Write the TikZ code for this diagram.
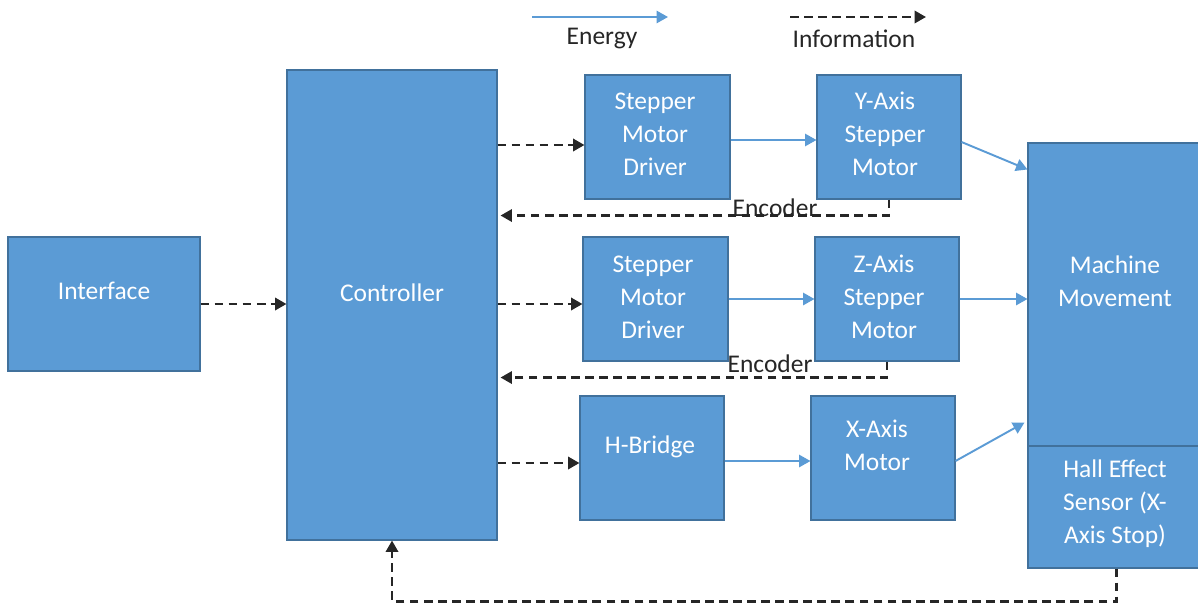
\documentclass[tikz,border=0pt]{standalone}
\usepackage{fontspec}
\setmainfont{Carlito}
\usepackage{xcolor}
\usetikzlibrary{arrows.meta,positioning,calc}
\definecolor{boxblue}{HTML}{5B9BD5}
\definecolor{boxedge}{HTML}{41719C}

\begin{document}
\begin{tikzpicture}[
  font=\fontsize{14.5}{18.8}\selectfont,
  blk/.style={draw=boxedge, fill=boxblue, line width=0.6pt, inner sep=0pt},
  txt/.style={text=white, align=center, inner sep=0pt},
  lbl/.style={text=black!85, inner sep=0pt},
  energy/.style={-{Triangle[length=6.5pt, width=7pt]}, draw=boxblue, line width=1.1pt},
  info/.style={-{Triangle[length=6.5pt, width=7pt]}, black!85, line width=1.4pt,
    dash pattern=on 5pt off 3pt},
]
\useasboundingbox (0,0) rectangle (23.96,12.08);
% legend
\node[lbl] (lgen) at (12.04,11.30) {Energy};
\node[lbl] (lgin) at (17.08,11.30) {Information};
\coordinate (en1) at (10.64,11.74);
\coordinate (en2) at (13.36,11.74);
\coordinate (in1) at (15.80,11.74);
\coordinate (in2) at (18.52,11.74);
\draw[energy] (en1) -- (en2);
\draw[info] (in1) -- (in2);
% blocks
\node[blk, minimum width=3.84cm, minimum height=2.68cm] (intf) at (2.08,6.00) {};
\node[txt] (intf-t) at (2.08,6.26) {Interface};
\node[blk, minimum width=4.20cm, minimum height=9.40cm] (ctrl) at (7.84,5.98) {};
\node[txt] (ctrl-t) at (7.84,6.22) {Controller};
\node[blk, minimum width=2.90cm, minimum height=2.48cm] (drv1) at (13.15,9.34) {};
\node[txt] (drv1-t) at (13.10,9.40) {Stepper\\Motor\\Driver};
\node[blk, minimum width=2.88cm, minimum height=2.48cm] (ymot) at (17.78,9.34) {};
\node[txt] (ymot-t) at (17.70,9.40) {Y-Axis\\Stepper\\Motor};
\node[blk, minimum width=2.90cm, minimum height=2.48cm] (drv2) at (13.11,6.10) {};
\node[txt] (drv2-t) at (13.06,6.14) {Stepper\\Motor\\Driver};
\node[blk, minimum width=2.88cm, minimum height=2.48cm] (zmot) at (17.74,6.10) {};
\node[txt] (zmot-t) at (17.68,6.14) {Z-Axis\\Stepper\\Motor};
\node[blk, minimum width=2.88cm, minimum height=2.48cm] (hbr) at (13.04,2.92) {};
\node[txt] (hbr-t) at (13.00,3.14) {H-Bridge};
\node[blk, minimum width=2.88cm, minimum height=2.48cm] (xmot) at (17.66,2.92) {};
\node[txt] (xmot-t) at (17.54,3.18) {X-Axis\\Motor};
\node[blk, minimum width=3.54cm, minimum height=6.06cm] (mach) at (22.33,6.19) {};
\node[txt] (mach-t) at (22.30,6.46) {Machine\\Movement};
\node[blk, minimum width=3.54cm, minimum height=2.44cm] (hall) at (22.33,1.94) {};
\node[txt] (hall-t) at (22.30,2.00) {Hall Effect\\Sensor (X-\\Axis Stop)};
% control signals
\draw[info] (intf.east) -- (intf.east -| ctrl.west);
\draw[info] ([yshift=-0.16cm]drv1.west -| ctrl.east) -- ([yshift=-0.16cm]drv1.west);
\draw[info] ([yshift=-0.10cm]drv2.west -| ctrl.east) -- ([yshift=-0.10cm]drv2.west);
\draw[info] ([yshift=-0.10cm]hbr.west -| ctrl.east) -- ([yshift=-0.10cm]hbr.west);
% encoder feedback
\draw[info] (ymot.south) -- ++(0,-0.32) coordinate (enc1) -- ([xshift=0.06cm]enc1 -| ctrl.east);
\node[lbl] (enc1-t) at (15.50,7.92) {Encoder};
\draw[info] (zmot.south) -- ++(0,-0.32) coordinate (enc2) -- ([xshift=0.06cm]enc2 -| ctrl.east);
\node[lbl] (enc2-t) at (15.40,4.80) {Encoder};
\draw[info] (hall.south) -- ++(0,-0.66) -| (ctrl.south);
% power to the axes
\draw[energy] ([yshift=-0.06cm]drv1.east) -- ([yshift=-0.06cm]drv1.east -| ymot.west);
\draw[energy] (drv2.east) -- (drv2.east -| zmot.west);
\draw[energy] ([yshift=-0.06cm]hbr.east) -- ([yshift=-0.06cm]hbr.east -| xmot.west);
\draw[energy] ([yshift=-0.10cm]ymot.east) -- ([yshift=-0.54cm]mach.north west);
\draw[energy] (zmot.east) -- (zmot.east -| mach.west);
\draw[energy] ([yshift=-0.06cm]xmot.east) -- ([shift={(-0.06cm,0.48cm)}]mach.south west);
\end{tikzpicture}
\end{document}
